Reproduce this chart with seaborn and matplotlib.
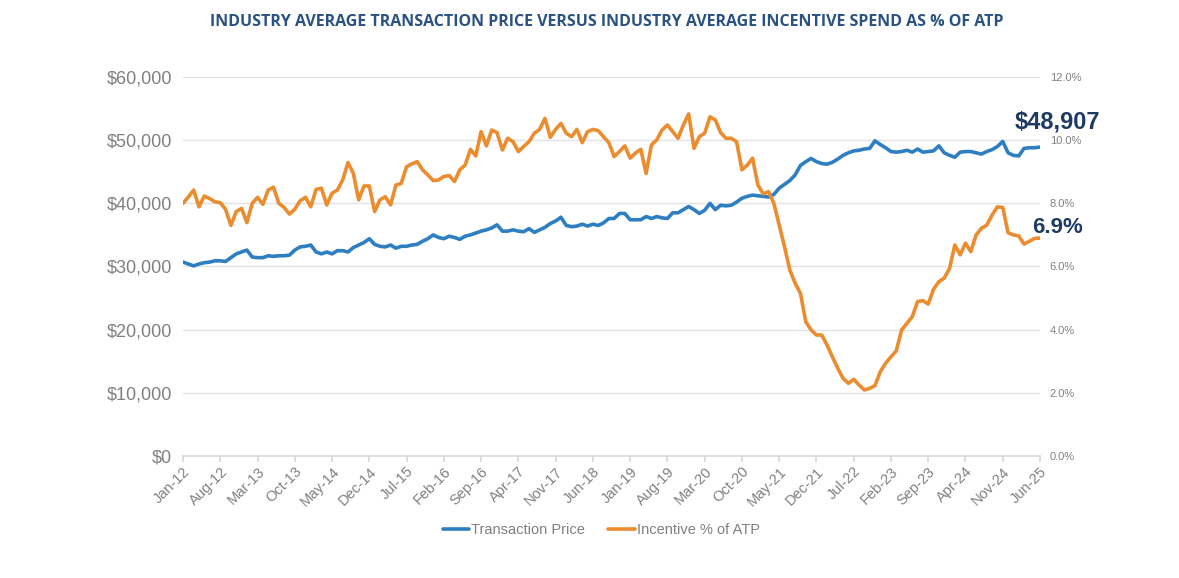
import pandas as pd
import numpy as np
import matplotlib.pyplot as plt
import seaborn as sns
from matplotlib.ticker import FuncFormatter

# monthly series Jan-12 .. Jun-25 (162 months)
atp_k = [
    30.7, 30.4, 30.1, 30.4, 30.6, 30.7, 30.9, 30.9, 30.8, 31.4,
    32.0, 32.3, 32.6, 31.5, 31.4, 31.4, 31.7, 31.6, 31.7, 31.7,
    31.8, 32.6, 33.1, 33.2, 33.4, 32.3, 32.0, 32.3, 32.0, 32.5,
    32.5, 32.3, 33.0, 33.4, 33.8, 34.4, 33.5, 33.2, 33.1, 33.4,
    32.9, 33.2, 33.2, 33.4, 33.5, 34.0, 34.4, 35.0, 34.6, 34.4,
    34.8, 34.6, 34.3, 34.8, 35.0, 35.3, 35.6, 35.8, 36.1, 36.6,
    35.6, 35.6, 35.8, 35.6, 35.5, 36.0, 35.4, 35.8, 36.2, 36.8,
    37.2, 37.8, 36.5, 36.3, 36.4, 36.7, 36.4, 36.7, 36.5, 36.9,
    37.6, 37.6, 38.4, 38.4, 37.4, 37.4, 37.4, 37.9, 37.6, 37.9,
    37.7, 37.6, 38.5, 38.5, 39.0, 39.5, 39.0, 38.4, 38.9, 40.0,
    39.0, 39.7, 39.6, 39.7, 40.2, 40.8, 41.1, 41.3, 41.2, 41.1,
    41.0, 41.4, 42.4, 43.0, 43.6, 44.5, 46.0, 46.6, 47.1, 46.6,
    46.3, 46.2, 46.5, 47.0, 47.6, 48.0, 48.3, 48.4, 48.6, 48.7,
    49.9, 49.3, 48.8, 48.2, 48.1, 48.2, 48.4, 48.1, 48.6, 48.1,
    48.2, 48.3, 49.1, 48.0, 47.6, 47.3, 48.1, 48.2, 48.2, 48.0,
    47.8, 48.2, 48.5, 49.0, 49.8, 48.0, 47.6, 47.5, 48.7, 48.8,
    48.8, 48.907,
]
incentive_pct = [
    8.00, 8.20, 8.42, 7.89, 8.23, 8.15, 8.05, 8.02, 7.81, 7.30,
    7.74, 7.84, 7.39, 8.00, 8.19, 7.97, 8.42, 8.51, 8.00, 7.87,
    7.66, 7.81, 8.08, 8.19, 7.89, 8.44, 8.48, 7.95, 8.32, 8.42,
    8.74, 9.29, 8.95, 8.11, 8.55, 8.55, 7.74, 8.11, 8.21, 7.95,
    8.58, 8.63, 9.16, 9.25, 9.32, 9.06, 8.90, 8.72, 8.74, 8.85,
    8.88, 8.69, 9.06, 9.21, 9.71, 9.50, 10.27, 9.82, 10.32, 10.24,
    9.69, 10.06, 9.95, 9.64, 9.80, 9.95, 10.22, 10.34, 10.69, 10.09,
    10.34, 10.53, 10.22, 10.11, 10.34, 9.92, 10.27, 10.34, 10.30, 10.11,
    9.92, 9.48, 9.64, 9.82, 9.43, 9.59, 9.71, 8.95, 9.85, 10.01,
    10.32, 10.48, 10.27, 10.06, 10.48, 10.83, 9.74, 10.11, 10.22, 10.74,
    10.64, 10.24, 10.06, 10.06, 9.95, 9.06, 9.21, 9.43, 8.58, 8.30,
    8.37, 8.00, 7.31, 6.63, 5.89, 5.47, 5.15, 4.25, 3.99, 3.83,
    3.83, 3.51, 3.14, 2.78, 2.46, 2.30, 2.43, 2.25, 2.09, 2.14,
    2.23, 2.67, 2.94, 3.14, 3.33, 3.99, 4.20, 4.41, 4.89, 4.92,
    4.81, 5.28, 5.52, 5.63, 5.94, 6.68, 6.37, 6.74, 6.47, 7.00,
    7.21, 7.31, 7.63, 7.89, 7.87, 7.07, 7.00, 6.97, 6.71, 6.80,
    6.89, 6.90,
]
months = pd.date_range("2012-01-01", periods=len(atp_k), freq="MS")
tick_step = 7

df = pd.DataFrame({
    "month": np.arange(len(months)),
    "Transaction Price": np.array(atp_k) * 1000,
    "Incentive % of ATP": incentive_pct,
})

blue = "#2E7EC2"
orange = "#EB8C2F"
grey = "#808080"
navy = "#1f3b63"

sns.set_theme(style="white")
plt.rcParams["font.family"] = ["Liberation Sans", "DejaVu Sans"]

fig = plt.figure(figsize=(11.79, 5.78), dpi=100)
ax = fig.add_axes([183 / 1179, 1 - 456 / 578, (1040 - 183) / 1179, (456 - 77) / 578])
ax2 = ax.twinx()

sns.lineplot(data=df, x="month", y="Transaction Price", ax=ax, color=blue, linewidth=2.6)
sns.lineplot(data=df, x="month", y="Incentive % of ATP", ax=ax2, color=orange, linewidth=2.6)

ax.set_xlim(0, len(months) - 1)
ax.set_ylim(0, 60000)
ax2.set_ylim(0, 12)
ax.set_yticks(np.arange(0, 60001, 10000))
ax2.set_yticks(np.arange(0, 12.1, 2))
ax.yaxis.set_major_formatter(FuncFormatter(lambda v, p: f"${v:,.0f}"))
ax2.yaxis.set_major_formatter(FuncFormatter(lambda v, p: f"{v:.1f}%"))
ax.grid(axis="y", color="#e3e3e3", linewidth=1)
ax.set_axisbelow(True)

ticks = np.arange(0, len(months), tick_step)
ax.set_xticks(ticks)
ax.set_xticklabels([months[i].strftime("%b-%y") for i in ticks], rotation=45,
                   ha="right", rotation_mode="anchor", fontsize=10.5, color=grey)
ax.tick_params(axis="x", length=4, color="#d9d9d9", pad=2, bottom=True)
ax.tick_params(axis="y", labelsize=13, colors=grey, length=0, pad=8)
ax2.tick_params(axis="y", labelsize=8, colors=grey, length=0, pad=7)
ax.set_xlabel("")
ax.set_ylabel("")
ax2.set_ylabel("")
for a in (ax, ax2):
    for s in a.spines.values():
        s.set_visible(False)
ax.spines["bottom"].set_visible(True)
ax.spines["bottom"].set_color("#d9d9d9")

ax.text(len(months) + 2.3, atp_k[-1] * 1000 + 4000, f"${atp_k[-1] * 1000:,.0f}",
        fontsize=17, fontweight="bold", color=navy, ha="center", va="center", clip_on=False)
ax2.text(len(months) + 2.3, incentive_pct[-1] + 0.35, f"{incentive_pct[-1]:.1f}%",
         fontsize=16, fontweight="bold", color=navy, ha="center", va="center", clip_on=False)

fig.text(0.515, 1 - 22 / 578,
         "INDUSTRY AVERAGE TRANSACTION PRICE VERSUS INDUSTRY AVERAGE INCENTIVE SPEND AS % OF ATP",
         ha="center", va="center", fontsize=11.5, fontweight="bold", color="#2a5282",
         family=["Open Sans", "DejaVu Sans"])

h1 = plt.Line2D([], [], color=blue, linewidth=2.6)
h2 = plt.Line2D([], [], color=orange, linewidth=2.6)
fig.legend([h1, h2], ["Transaction Price", "Incentive % of ATP"], loc="center",
           bbox_to_anchor=(0.51, 1 - 530 / 578), ncol=2, frameon=False,
           fontsize=10.5, labelcolor=grey, handlelength=1.8, handletextpad=0.15,
           columnspacing=1.6)

fig.savefig("out.png", dpi=100)
